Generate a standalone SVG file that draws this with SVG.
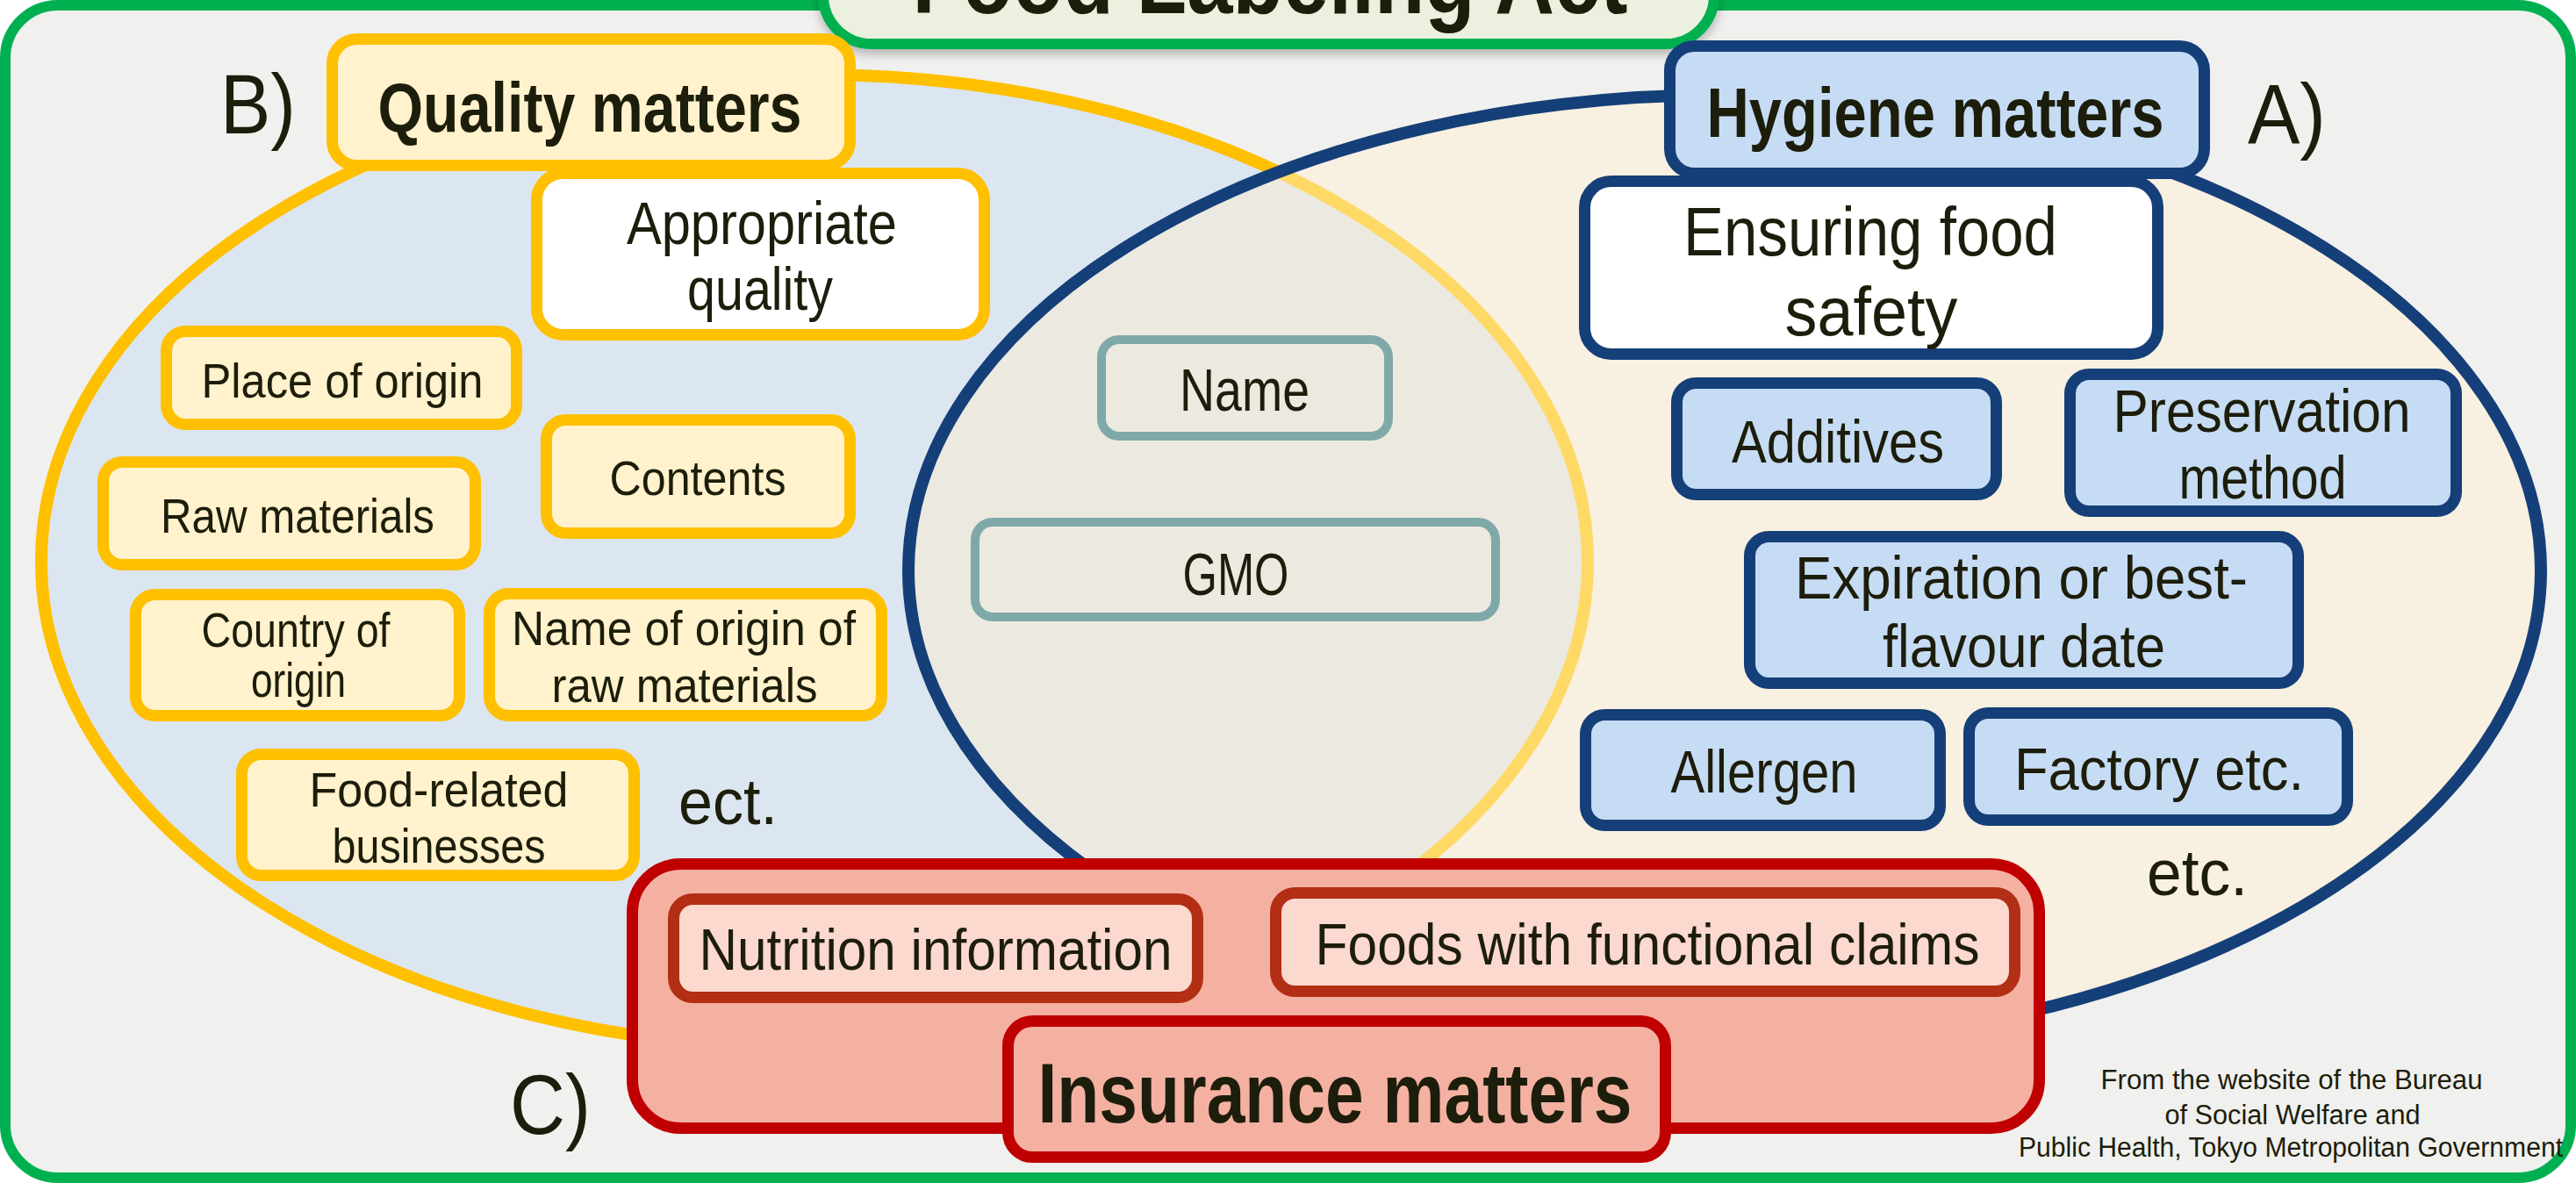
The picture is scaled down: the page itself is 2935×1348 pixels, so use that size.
<svg xmlns="http://www.w3.org/2000/svg" width="2935" height="1348" viewBox="0 0 2935 1348">
<style>
text{font-family:"Liberation Sans",Arial,sans-serif;fill:#1D1D0B;text-anchor:middle}
.b{font-weight:bold}
.yb rect{fill:#FFF2CC;stroke:#FFC000;stroke-width:13}
.yw rect{fill:#FFFFFF;stroke:#FFC000;stroke-width:13}
.nb rect{fill:#C6DCF5;stroke:#153F78;stroke-width:13}
.nw rect{fill:#FFFFFF;stroke:#153F78;stroke-width:13}
.tb rect{fill:none;stroke:#7FA9A9;stroke-width:10}
.rb rect{fill:#F4B1A2;stroke:#C00000;stroke-width:13}
.pb rect{fill:#FBD9CF;stroke:#B22E14;stroke-width:13}
.m{font-size:68px}
.s{font-size:56px}
.lbl{font-size:97px;text-anchor:start}
</style>
<defs>
<clipPath id="clipY"><ellipse cx="928" cy="640" rx="881" ry="555"/></clipPath>
<clipPath id="clipA"><ellipse cx="1965" cy="650" rx="930" ry="542"/></clipPath>
<filter id="shadow" x="-10%" y="-10%" width="120%" height="140%">
<feDropShadow dx="0" dy="6" stdDeviation="6" flood-color="#000000" flood-opacity="0.25"/>
</filter>
</defs>

<g id="frame">
<rect x="6" y="6" width="2923" height="1336" rx="60" fill="#F0F0EE" stroke="#00B050" stroke-width="12"/>
</g>

<g id="ellipses">
<ellipse cx="928" cy="640" rx="881" ry="555" fill="#DBE6F1" stroke="#FFC000" stroke-width="14"/>
<ellipse cx="1965" cy="650" rx="930" ry="542" fill="#F8F0E0"/>
<ellipse cx="1965" cy="650" rx="930" ry="542" fill="#ECE9E0" clip-path="url(#clipY)"/>
<ellipse cx="928" cy="640" rx="881" ry="555" fill="none" stroke="#FFD966" stroke-width="14" clip-path="url(#clipA)"/>
<ellipse cx="1965" cy="650" rx="930" ry="542" fill="none" stroke="#153F78" stroke-width="14"/>
</g>

<g id="title">
<rect x="938" y="-100" width="1015" height="150" rx="55" fill="#EBF1DE" stroke="#00B050" stroke-width="12" filter="url(#shadow)"/>
<text class="b" x="1447" y="15" font-size="110" textLength="815" lengthAdjust="spacingAndGlyphs">Food Labeling Act</text>
</g>

<g id="labelB"><text class="lbl" x="251" y="152" textLength="86" lengthAdjust="spacingAndGlyphs">B)</text></g>
<g id="labelA"><text class="lbl" x="2561" y="163" textLength="89" lengthAdjust="spacingAndGlyphs">A)</text></g>
<g id="labelC"><text class="lbl" x="581" y="1292" textLength="92" lengthAdjust="spacingAndGlyphs">C)</text></g>

<g id="quality" class="yb">
<rect x="378.5" y="44.5" width="590" height="144" rx="28"/>
<text class="b" x="672" y="150" font-size="80" textLength="483" lengthAdjust="spacingAndGlyphs">Quality matters</text>
</g>
<g id="appropriate" class="yw">
<rect x="611.5" y="197.5" width="510" height="184" rx="30"/>
<text class="m" x="868" y="278" textLength="308" lengthAdjust="spacingAndGlyphs">Appropriate</text>
<text class="m" x="866" y="353" textLength="166" lengthAdjust="spacingAndGlyphs">quality</text>
</g>
<g id="place" class="yb">
<rect x="189.5" y="377.5" width="399" height="106" rx="22"/>
<text class="s" x="390" y="453" textLength="321" lengthAdjust="spacingAndGlyphs">Place of origin</text>
</g>
<g id="contents" class="yb">
<rect x="622.5" y="478.5" width="346" height="129" rx="22"/>
<text class="s" x="795" y="564" textLength="201" lengthAdjust="spacingAndGlyphs">Contents</text>
</g>
<g id="raw" class="yb">
<rect x="117.5" y="526.5" width="424" height="117" rx="22"/>
<text class="s" x="339" y="607" textLength="312" lengthAdjust="spacingAndGlyphs">Raw materials</text>
</g>
<g id="country" class="yb">
<rect x="154.5" y="677.5" width="369" height="138" rx="22"/>
<text class="s" x="337" y="737" textLength="215" lengthAdjust="spacingAndGlyphs">Country of</text>
<text class="s" x="340" y="794" textLength="108" lengthAdjust="spacingAndGlyphs">origin</text>
</g>
<g id="nameorigin" class="yb">
<rect x="557.5" y="676.5" width="447" height="139" rx="22"/>
<text class="s" x="779" y="735" textLength="392" lengthAdjust="spacingAndGlyphs">Name of origin of</text>
<text class="s" x="780" y="800" textLength="303" lengthAdjust="spacingAndGlyphs">raw materials</text>
</g>
<g id="foodrelated" class="yb">
<rect x="275.5" y="859.5" width="447" height="138" rx="22"/>
<text class="s" x="500" y="919" textLength="295" lengthAdjust="spacingAndGlyphs">Food-related</text>
<text class="s" x="500" y="983" textLength="243" lengthAdjust="spacingAndGlyphs">businesses</text>
</g>
<g id="ect"><text x="773" y="939" font-size="74" style="text-anchor:start" textLength="113" lengthAdjust="spacingAndGlyphs">ect.</text></g>

<g id="name" class="tb">
<rect x="1255" y="387" width="327" height="110" rx="20"/>
<text class="m" x="1418" y="468" textLength="148" lengthAdjust="spacingAndGlyphs">Name</text>
</g>
<g id="gmo" class="tb">
<rect x="1111" y="595" width="593" height="108" rx="20"/>
<text class="m" x="1408" y="678" textLength="121" lengthAdjust="spacingAndGlyphs">GMO</text>
</g>

<g id="hygiene" class="nb">
<rect x="1902.5" y="52.5" width="609" height="145" rx="28"/>
<text class="b" x="2205" y="156" font-size="80" textLength="521" lengthAdjust="spacingAndGlyphs">Hygiene matters</text>
</g>
<g id="ensuring" class="nw">
<rect x="1805.5" y="206.5" width="653" height="197" rx="30"/>
<text x="2131" y="291" font-size="78" textLength="426" lengthAdjust="spacingAndGlyphs">Ensuring food</text>
<text x="2132" y="382" font-size="78" textLength="197" lengthAdjust="spacingAndGlyphs">safety</text>
</g>
<g id="additives" class="nb">
<rect x="1910.5" y="436.5" width="364" height="127" rx="22"/>
<text class="m" x="2094" y="527" textLength="242" lengthAdjust="spacingAndGlyphs">Additives</text>
</g>
<g id="preservation" class="nb">
<rect x="2358.5" y="426.5" width="440" height="156" rx="22"/>
<text class="m" x="2577" y="492" textLength="339" lengthAdjust="spacingAndGlyphs">Preservation</text>
<text class="m" x="2578" y="568" textLength="191" lengthAdjust="spacingAndGlyphs">method</text>
</g>
<g id="expiration" class="nb">
<rect x="1993.5" y="611.5" width="625" height="167" rx="22"/>
<text class="m" x="2303" y="682" textLength="516" lengthAdjust="spacingAndGlyphs">Expiration or best-</text>
<text class="m" x="2306" y="760" textLength="322" lengthAdjust="spacingAndGlyphs">flavour date</text>
</g>
<g id="allergen" class="nb">
<rect x="1806.5" y="814.5" width="404" height="126" rx="22"/>
<text class="m" x="2010" y="903" textLength="213" lengthAdjust="spacingAndGlyphs">Allergen</text>
</g>
<g id="factory" class="nb">
<rect x="2243.5" y="812.5" width="431" height="122" rx="22"/>
<text class="m" x="2460" y="900" textLength="330" lengthAdjust="spacingAndGlyphs">Factory etc.</text>
</g>
<g id="etc"><text x="2446" y="1020" font-size="74" style="text-anchor:start" textLength="115" lengthAdjust="spacingAndGlyphs">etc.</text></g>

<g id="insuranceGroup" class="rb">
<rect x="720.5" y="984.5" width="1603" height="301" rx="55"/>
</g>
<g id="nutrition" class="pb">
<rect x="767.5" y="1024.5" width="597" height="112" rx="22"/>
<text x="1066" y="1105" font-size="66" textLength="539" lengthAdjust="spacingAndGlyphs">Nutrition information</text>
</g>
<g id="functional" class="pb">
<rect x="1453.5" y="1017.5" width="842" height="112" rx="22"/>
<text x="1877" y="1099" font-size="66" textLength="757" lengthAdjust="spacingAndGlyphs">Foods with functional claims</text>
</g>
<g id="insurance" class="rb">
<rect x="1148.5" y="1163.5" width="749" height="155" rx="28"/>
<text class="b" x="1521" y="1279" font-size="97" textLength="677" lengthAdjust="spacingAndGlyphs">Insurance matters</text>
</g>

<g id="credit">
<text x="2611" y="1241" font-size="31" textLength="435" lengthAdjust="spacingAndGlyphs">From the website of the Bureau</text>
<text x="2612" y="1281" font-size="31" textLength="291" lengthAdjust="spacingAndGlyphs">of Social Welfare and</text>
<text x="2610" y="1318" font-size="31" textLength="620" lengthAdjust="spacingAndGlyphs">Public Health, Tokyo Metropolitan Government</text>
</g>

<g id="connectors"></g>
</svg>
